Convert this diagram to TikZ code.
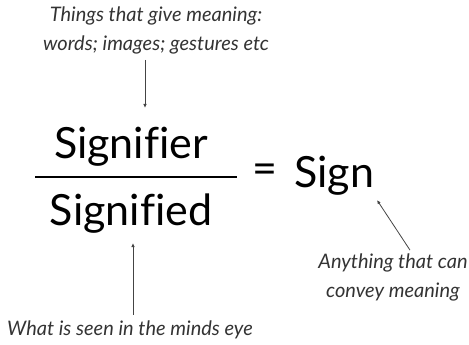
\documentclass[tikz,border=0pt]{standalone}
\usepackage{fontspec}
\setmainfont{Lato}[Ligatures=NoCommon]
\usetikzlibrary{arrows.meta}

\definecolor{notegray}{HTML}{333333}
\definecolor{linegray}{HTML}{444444}

\tikzset{
  bigword/.style={font=\fontsize{43}{48}\selectfont, text=black, inner sep=0pt},
  note/.style={font=\fontsize{20}{29}\selectfont\itshape, text=notegray, align=center, inner sep=0pt},
  pointer/.style={draw=linegray, line width=0.8pt, -{Latex[length=4pt,width=3.5pt]}}
}

\begin{document}
\begin{tikzpicture}[x=1pt, y=-1pt]
    \useasboundingbox (0,0) rectangle (469,345);

    % --- Signifier / Signified = Sign ---
    \node[bigword, anchor=base] (signifier) at (131,158) {Signifier};
    \node[bigword, anchor=base] (signified) at (131,225) {Signified};
    \draw[line width=1.8pt] (35,177) -- (237,177);
    \node[bigword, anchor=base] (equals) at (265,183) {=};
    \node[bigword, anchor=base west] (sign) at (294,187) {Sign};

    % --- Notes ---
    \node[note] (meaning) at (156,30) {Things that give meaning:\\words; images; gestures etc};
    \node[note] (convey) at (393,277) {Anything that can\\convey meaning};
    \node[note] (mind) at (130,330) {What is seen in the minds eye};

    % --- Arrows ---
    \coordinate (topend) at (145,108);
    \coordinate (midend) at (133,243);
    \coordinate (signend) at (377,200);
    \draw[pointer] ([yshift=-6pt]meaning.south -| topend) -- (topend);
    \draw[pointer] ([yshift=6pt]mind.north -| midend) -- (midend);
    \draw[pointer] ([xshift=17pt,yshift=3pt]convey.north) -- (signend);
\end{tikzpicture}
\end{document}
